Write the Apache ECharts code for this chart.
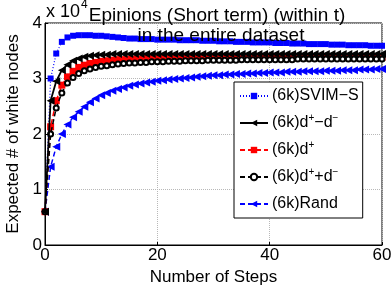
<!DOCTYPE html>
<html><head><meta charset="utf-8">
<script src="https://cdn.jsdelivr.net/npm/echarts@6/dist/echarts.min.js"></script>
<style>html,body{margin:0;padding:0;background:#fff}#c{width:391px;height:290px}</style>
</head><body><div id="c"></div>
<script>
var steps = [];
for (var i = 0; i <= 60; i++) steps.push(i);
var yTicks = [0, 1, 2, 3, 4];
var xTicks = [0, 20, 40, 60];
var seriesNames = ['SVIM-S', 'd+-d-', 'd+', 'd++d-', 'Rand'];
var svimS = [0.6,3.0,3.45,3.66,3.74,3.77,3.78,3.78,3.78,3.77,3.77,3.76,3.75,3.74,3.73,3.72,3.72,3.71,3.71,3.71,3.70,3.70,3.70,3.70,3.69,3.69,3.69,3.69,3.68,3.68,3.68,3.67,3.67,3.67,3.66,3.66,3.66,3.65,3.65,3.65,3.65,3.64,3.64,3.64,3.63,3.63,3.63,3.62,3.62,3.62,3.62,3.61,3.61,3.61,3.60,3.60,3.60,3.60,3.59,3.59,3.59];
var dPlusMinusDMinus = [0.6,2.6,2.95,3.15,3.25,3.32,3.36,3.39,3.41,3.42,3.43,3.43,3.44,3.44,3.44,3.44,3.44,3.44,3.44,3.44,3.44,3.44,3.44,3.44,3.44,3.44,3.44,3.44,3.44,3.44,3.44,3.44,3.44,3.44,3.44,3.44,3.44,3.44,3.44,3.44,3.44,3.44,3.44,3.44,3.44,3.44,3.44,3.44,3.44,3.44,3.44,3.44,3.44,3.44,3.44,3.44,3.44,3.44,3.44,3.44,3.44];
var dPlus = [0.6,2.13,2.6,2.88,3.03,3.13,3.2,3.24,3.27,3.29,3.31,3.32,3.33,3.34,3.34,3.35,3.35,3.35,3.36,3.36,3.36,3.36,3.37,3.37,3.37,3.37,3.37,3.37,3.37,3.37,3.38,3.38,3.38,3.38,3.38,3.38,3.38,3.38,3.38,3.38,3.38,3.38,3.38,3.38,3.38,3.38,3.38,3.38,3.38,3.38,3.38,3.38,3.38,3.38,3.38,3.38,3.38,3.38,3.38,3.38,3.38];
var dPlusPlusDMinus = [0.6,2.0,2.47,2.74,2.92,3.02,3.09,3.14,3.17,3.2,3.22,3.23,3.25,3.26,3.27,3.28,3.28,3.29,3.29,3.3,3.3,3.3,3.31,3.31,3.31,3.32,3.32,3.32,3.32,3.33,3.33,3.33,3.33,3.33,3.33,3.34,3.34,3.34,3.34,3.34,3.34,3.34,3.34,3.34,3.34,3.35,3.35,3.35,3.35,3.35,3.35,3.35,3.35,3.35,3.35,3.35,3.35,3.35,3.35,3.35,3.35];
var rand = [0.6,1.41,1.77,2.0,2.17,2.3,2.4,2.49,2.57,2.64,2.70,2.74,2.78,2.81,2.84,2.87,2.89,2.91,2.93,2.94,2.96,2.97,2.98,2.99,3.0,3.01,3.02,3.03,3.04,3.05,3.06,3.06,3.07,3.07,3.08,3.08,3.09,3.09,3.10,3.10,3.11,3.11,3.11,3.12,3.12,3.12,3.13,3.13,3.13,3.13,3.14,3.14,3.14,3.15,3.15,3.15,3.16,3.16,3.16,3.17,3.17];

var FONT = '"Liberation Sans", Arial, sans-serif';
var FT = 19, FA = 17, FL = 16;
var legendLabels = {
  'SVIM-S': '(6k)SVIM\u2212S',
  'd+-d-': '(6k)d{s|+}\u2212d{s|\u2212}',
  'd+': '(6k)d{s|+}',
  'd++d-': '(6k)d{s|+}+d{s|\u2212}',
  'Rand': '(6k)Rand'
};
function pairs(arr){ return arr.map(function(v,i){ return [steps[i], v]; }); }

var chart = echarts.init(document.getElementById('c'), null, {renderer:'canvas'});
chart.setOption({
  animation: false,
  backgroundColor: '#fff',
  textStyle: {fontFamily: FONT},
  title: [
    {text: 'Epinions (Short term) (within t)', left: 212, top: 1, textAlign: 'center',
     textStyle: {fontFamily: FONT, fontSize: FT, fontWeight: 'normal', color: '#000'}},
    {text: 'in the entire dataset', left: 216, top: 21, textAlign: 'center',
     textStyle: {fontFamily: FONT, fontSize: FT, fontWeight: 'normal', color: '#000'}}
  ],
  graphic: [
    {type: 'text', left: 46, top: 3, style: {text: 'x 10', font: '18px ' + FONT, fill: '#000'}},
    {type: 'text', left: 81, top: -1, style: {text: '4', font: '12px ' + FONT, fill: '#000'}}
  ],
  grid: {left: 45, right: 9, top: 23, bottom: 45, outerBoundsMode: 'none', show: true, borderColor: '#000', borderWidth: 1, backgroundColor: 'transparent'},
  legend: {
    orient: 'vertical', left: 234, top: 82,
    backgroundColor: '#fff', borderColor: '#000', borderWidth: 1,
    padding: [4, 4, 4, 5], itemGap: 7, itemWidth: 28, itemHeight: 8,
    data: seriesNames,
    formatter: function(n){ return legendLabels[n]; },
    textStyle: {fontFamily: FONT, fontSize: FL, color: '#000', padding: [0,0,0,-1], lineHeight: 20,
      rich: {s: {fontSize: 10, verticalAlign: 'top', fontFamily: FONT, lineHeight: 20, padding: [0,0,7,0]}}}
  },
  xAxis: {
    type: 'value', min: 0, max: 60, interval: 20,
    name: 'Number of Steps', nameLocation: 'middle', nameGap: 13,
    nameTextStyle: {fontFamily: FONT, fontSize: FA, color: '#000', verticalAlign: 'top'},
    axisLine: {onZero: false, lineStyle: {color: '#000', width: 1}},
    axisTick: {inside: true, length: 3, lineStyle: {color: '#000'}},
    axisLabel: {fontFamily: FONT, fontSize: FA, color: '#000', margin: 2},
    splitLine: {show: true, lineStyle: {color: '#b8b8b8', type: 'dotted', width: 1}}
  },
  yAxis: {
    type: 'value', min: 0, max: 4, interval: 1,
    name: 'Expected # of white nodes', nameLocation: 'middle', nameGap: 21,
    nameTextStyle: {fontFamily: FONT, fontSize: FA, color: '#000'},
    axisLine: {onZero: false, lineStyle: {color: '#000', width: 1}},
    axisTick: {inside: true, length: 3, lineStyle: {color: '#000'}},
    axisLabel: {fontFamily: FONT, fontSize: FA, color: '#000', margin: 3},
    splitLine: {show: true, lineStyle: {color: '#b8b8b8', type: 'dotted', width: 1}}
  },
  series: [
    {name: 'SVIM-S', type: 'line', data: pairs(svimS), showAllSymbol: true,
     symbol: 'rect', symbolSize: 6, itemStyle: {color: '#0000ff'},
     lineStyle: {color: '#0000ff', width: 1.2, type: [1, 2]}, z: 2},
    {name: 'Rand', type: 'line', data: pairs(rand), showAllSymbol: true,
     symbol: 'triangle', symbolRotate: 90, symbolSize: 8, itemStyle: {color: '#0000ff'},
     lineStyle: {color: '#0000ff', width: 1.5, type: [5, 3]}, z: 2},
    {name: 'd+', type: 'line', data: pairs(dPlus), showAllSymbol: true,
     symbol: 'rect', symbolSize: 7, itemStyle: {color: '#ff0000'},
     lineStyle: {color: '#ff0000', width: 1.5, type: [5, 3]}, z: 3},
    {name: 'd++d-', type: 'line', data: pairs(dPlusPlusDMinus), showAllSymbol: true,
     symbol: 'emptyCircle', symbolSize: 5, itemStyle: {color: '#000', borderColor: '#000', borderWidth: 1.5},
     lineStyle: {color: '#000', width: 1.5, type: [5, 3]}, z: 4},
    {name: 'd+-d-', type: 'line', data: pairs(dPlusMinusDMinus), showAllSymbol: true,
     symbol: 'triangle', symbolRotate: 90, symbolSize: 8, itemStyle: {color: '#000'},
     lineStyle: {color: '#000', width: 1.8, type: 'solid'}, z: 5}
  ]
});
</script></body></html>
